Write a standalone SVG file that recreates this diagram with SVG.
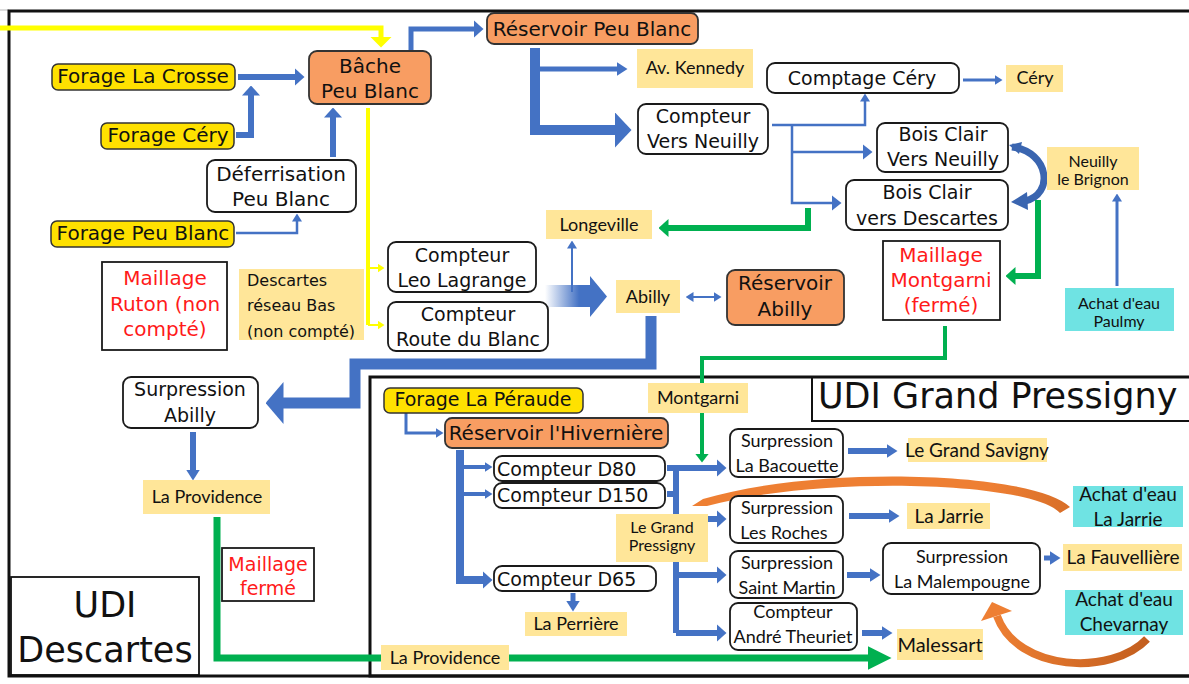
<svg xmlns="http://www.w3.org/2000/svg" width="1189" height="684" viewBox="0 0 1189 684">
<defs>
<style>
.n{fill:#fff;stroke:#1a1a1a;stroke-width:1.8}
.f{fill:#FFE100;stroke:#333;stroke-width:1.5}
.o{fill:#F89D62;stroke:#333;stroke-width:1.8}
.l{fill:#FFE699}
.c{fill:#6FE3E3}
.t{font-family:"DejaVu Sans",sans-serif;fill:#111;text-anchor:middle}
.k{font-family:Lato,"Liberation Sans",sans-serif;fill:#111;text-anchor:middle}
.r{fill:#FF1A1A}
.b{fill:none;stroke:#4472C4}
.g{fill:none;stroke:#00B050}
.y{fill:none;stroke:#FFFF00}
.fr{fill:none;stroke:#111}
</style>
<marker id="aS" markerUnits="userSpaceOnUse" viewBox="0 0 8 10" markerWidth="8" markerHeight="10" refX="0.5" refY="5" orient="auto-start-reverse"><path d="M0,0L8,5L0,10z" fill="#4472C4"/></marker>
<marker id="aT" markerUnits="userSpaceOnUse" viewBox="0 0 10 16" markerWidth="10" markerHeight="16" refX="0.5" refY="8" orient="auto"><path d="M0,0L10,8L0,16z" fill="#4472C4"/></marker>
<marker id="aM" markerUnits="userSpaceOnUse" viewBox="0 0 10 18" markerWidth="10" markerHeight="18" refX="0.5" refY="9" orient="auto"><path d="M0,0L10,9L0,18z" fill="#4472C4"/></marker>
<marker id="aN" markerUnits="userSpaceOnUse" viewBox="0 0 11 14" markerWidth="11" markerHeight="14" refX="0.5" refY="7" orient="auto"><path d="M0,0L11,7L0,14z" fill="#4472C4"/></marker>
<marker id="aL" markerUnits="userSpaceOnUse" viewBox="0 0 17 36" markerWidth="17" markerHeight="36" refX="0.5" refY="18" orient="auto"><path d="M0,0L17,18L0,36z" fill="#4472C4"/></marker>
<marker id="aX" markerUnits="userSpaceOnUse" viewBox="0 0 18 42" markerWidth="18" markerHeight="42" refX="0.5" refY="21" orient="auto"><path d="M0,0L18,21L0,42z" fill="#4472C4"/></marker>
<marker id="gS" markerUnits="userSpaceOnUse" viewBox="0 0 9 14" markerWidth="9" markerHeight="14" refX="0.5" refY="7" orient="auto"><path d="M0,0L9,7L0,14z" fill="#00B050"/></marker>
<marker id="gM" markerUnits="userSpaceOnUse" viewBox="0 0 10 18" markerWidth="10" markerHeight="18" refX="0.5" refY="9" orient="auto"><path d="M0,0L10,9L0,18z" fill="#00B050"/></marker>
<marker id="gL" markerUnits="userSpaceOnUse" viewBox="0 0 24 24" markerWidth="24" markerHeight="24" refX="0.5" refY="12" orient="auto"><path d="M0,0L24,12L0,24z" fill="#00B050"/></marker>
<marker id="yS" markerUnits="userSpaceOnUse" viewBox="0 0 7 9" markerWidth="7" markerHeight="9" refX="0.5" refY="4.5" orient="auto"><path d="M0,0L7,4.5L0,9z" fill="#FFFF00"/></marker>
<marker id="yL" markerUnits="userSpaceOnUse" viewBox="0 0 11 22" markerWidth="11" markerHeight="22" refX="0.5" refY="11" orient="auto"><path d="M0,0L11,11L0,22z" fill="#FFFF00"/></marker>
<linearGradient id="grad" x1="545" y1="0" x2="607" y2="0" gradientUnits="userSpaceOnUse"><stop offset="0" stop-color="#4472C4" stop-opacity="0"/><stop offset="0.55" stop-color="#4472C4"/></linearGradient>
<linearGradient id="og" x1="1150" y1="0" x2="990" y2="0" gradientUnits="userSpaceOnUse"><stop offset="0" stop-color="#C25E1E"/><stop offset="1" stop-color="#EE7F33"/></linearGradient>
</defs>
<rect width="1189" height="684" fill="#fff"/>
<g id="frames">
<line x1="0" y1="10" x2="9" y2="10" stroke="#bbb" stroke-width="1"/>
<rect class="fr" x="9" y="11" width="1190" height="665" stroke-width="3"/>
<rect class="fr" x="370" y="377" width="830" height="299" stroke-width="3"/>
<rect class="fr" x="812" y="377" width="390" height="44" stroke-width="2"/>
<rect class="fr" x="11" y="577" width="188" height="98" stroke-width="1.8"/>
<text class="t" x="818" y="408" font-size="35" style="text-anchor:start">UDI Grand Pressigny</text>
<text class="t" x="105" y="617" font-size="35">UDI</text>
<text class="t" x="105" y="662" font-size="35">Descartes</text>
</g>
<g id="connectors">
<path class="y" stroke-width="5" d="M0,28H381V37" marker-end="url(#yL)"/>
<path class="y" stroke-width="4" d="M368,108V325"/>
<path class="y" stroke-width="2" d="M368,268H378" marker-end="url(#yS)"/>
<path class="y" stroke-width="2" d="M368,325H378" marker-end="url(#yS)"/>
<path class="b" stroke-width="6" d="M238,77H295" marker-end="url(#aM)"/>
<path class="b" stroke-width="6" d="M236,135H251V95" marker-end="url(#aM)"/>
<path class="b" stroke-width="6" d="M333,157V117" marker-end="url(#aM)"/>
<path class="b" stroke-width="2.5" d="M236,233H297V221" marker-end="url(#aS)"/>
<path class="b" stroke-width="5" d="M411,50V29H474" marker-end="url(#aM)"/>
<path class="b" stroke-width="10" d="M535,48V130H615" marker-end="url(#aL)"/>
<path class="b" stroke-width="5" d="M535,69H617" marker-end="url(#aN)"/>
<path class="b" stroke-width="2.5" d="M772,125H865V101" marker-end="url(#aS)"/>
<path class="b" stroke-width="2.5" d="M792,125V203H832" marker-end="url(#aT)"/>
<path class="b" stroke-width="2.5" d="M792,152H863" marker-end="url(#aT)"/>
<path class="b" stroke-width="3" d="M963,80H995" marker-end="url(#aS)"/>
<path class="b" stroke-width="3" d="M1117,286V201" marker-end="url(#aS)"/>
<path fill="none" stroke="#3A65B0" stroke-width="7" d="M1012,147C1050,152 1054,195 1025,201"/>
<path d="M1009,145L1022,142L1019,154z" fill="#3A65B0"/>
<path d="M1011,202L1027,192L1028,210z" fill="#3A65B0"/>
<path class="g" stroke-width="6" d="M1038,200V276H1015" marker-end="url(#gM)"/>
<path class="g" stroke-width="6" d="M808,208V228H668" marker-end="url(#gM)"/>
<path class="b" stroke-width="2" d="M572,292V248" marker-end="url(#aS)"/>
<path d="M545,285H590V276L607,296.5L590,317V307H545z" fill="url(#grad)"/>
<path class="b" stroke-width="2" d="M693,297H714" marker-start="url(#aS)" marker-end="url(#aS)"/>
<path class="b" stroke-width="11" d="M651,316V364H355V403H283" marker-end="url(#aX)"/>
<path class="b" stroke-width="6" d="M193,432V470" marker-end="url(#aN)"/>
<path class="g" stroke-width="7" d="M217,517V658H868" marker-end="url(#gL)"/>
<path class="g" stroke-width="4" d="M945,326V358H702V454" marker-end="url(#gS)"/>
<path class="b" stroke-width="3" d="M406,413V433H436" marker-end="url(#aS)"/>
<path class="b" stroke-width="8" d="M460,450V580H483" marker-end="url(#aM)"/>
<path class="b" stroke-width="4" d="M460,467H485" marker-end="url(#aS)"/>
<path class="b" stroke-width="4" d="M460,494H485" marker-end="url(#aS)"/>
<path class="b" stroke-width="6" d="M676,468V633"/>
<path class="b" stroke-width="6" d="M667,494H676"/>
<path class="b" stroke-width="6" d="M667,468H717" marker-end="url(#aM)"/>
<path class="b" stroke-width="6" d="M676,519H717" marker-end="url(#aM)"/>
<path class="b" stroke-width="6" d="M676,575H717" marker-end="url(#aM)"/>
<path class="b" stroke-width="6" d="M676,633H717" marker-end="url(#aM)"/>
<path class="b" stroke-width="5" d="M573,593V601" marker-end="url(#aN)"/>
<path class="b" stroke-width="6" d="M848,451H887" marker-end="url(#aN)"/>
<path class="b" stroke-width="6" d="M849,516H889" marker-end="url(#aN)"/>
<path class="b" stroke-width="6" d="M847,575H870" marker-end="url(#aN)"/>
<path class="b" stroke-width="5" d="M1044,558H1050" marker-end="url(#aN)"/>
<path class="b" stroke-width="6" d="M862,633H882" marker-end="url(#aN)"/>
<path d="M1070,507C1035,472 820,464 703,499L692,506L707,506C820,475 1030,481 1060,513Z" fill="url(#og)"/>
<path fill="none" stroke="url(#og)" stroke-width="8" d="M1147,639C1112,676 1017,672 997,616"/>
<path d="M992,602L1012,611L981,621z" fill="#EE7F33"/>
</g>
<g id="forage-la-crosse"><rect class="f" x="52" y="64" width="183" height="26" rx="6"/><text class="t" x="143" y="83" font-size="20">Forage La Crosse</text></g>
<g id="forage-cery"><rect class="f" x="101" y="123" width="133" height="26" rx="6"/><text class="t" x="168" y="142" font-size="20">Forage Céry</text></g>
<g id="bache"><rect class="o" x="309" y="51" width="122" height="53" rx="8"/><text class="t" x="370" y="73" font-size="20">Bâche</text><text class="t" x="370" y="98" font-size="20">Peu Blanc</text></g>
<g id="deferrisation"><rect class="n" x="207" y="160" width="149" height="52" rx="8"/><text class="t" x="281" y="181" font-size="20">Déferrisation</text><text class="t" x="281" y="206" font-size="20">Peu Blanc</text></g>
<g id="forage-peu-blanc"><rect class="f" x="51" y="221" width="183" height="26" rx="6"/><text class="t" x="143" y="240" font-size="20">Forage Peu Blanc</text></g>
<g id="maillage-ruton"><rect class="n" x="102" y="262" width="125" height="88" rx="0"/><text class="t r" x="165" y="285" font-size="20">Maillage</text><text class="t r" x="165" y="311" font-size="20">Ruton (non</text><text class="t r" x="165" y="336" font-size="20">compté)</text></g>
<g id="descartes-bas"><rect class="l" x="239" y="269" width="125" height="71"/><text class="t" x="247" y="286" font-size="16" style="text-anchor:start">Descartes</text><text class="t" x="247" y="311" font-size="16" style="text-anchor:start">réseau Bas</text><text class="t" x="247" y="337" font-size="16" style="text-anchor:start">(non compté)</text></g>
<g id="reservoir-peu-blanc"><rect class="o" x="487" y="13" width="211" height="31" rx="7"/><text class="t" x="592" y="36" font-size="20">Réservoir Peu Blanc</text></g>
<g id="av-kennedy"><rect class="l" x="637" y="49" width="116" height="39"/><text class="k" x="695" y="74" font-size="18">Av. Kennedy</text></g>
<g id="compteur-vers-neuilly"><rect class="n" x="638" y="104" width="130" height="50" rx="8"/><text class="t" x="703" y="123" font-size="19">Compteur</text><text class="t" x="703" y="148" font-size="19">Vers Neuilly</text></g>
<g id="comptage-cery"><rect class="n" x="767" y="63" width="192" height="30" rx="8"/><text class="t" x="862" y="85" font-size="19">Comptage Céry</text></g>
<g id="cery"><rect class="l" x="1006" y="65" width="57" height="27"/><text class="k" x="1035" y="84" font-size="18">Céry</text></g>
<g id="bois-clair-neuilly"><rect class="n" x="877" y="123" width="131" height="49" rx="8"/><text class="t" x="943" y="141" font-size="19">Bois Clair</text><text class="t" x="943" y="166" font-size="19">Vers Neuilly</text></g>
<g id="bois-clair-descartes"><rect class="n" x="846" y="180" width="162" height="50" rx="8"/><text class="t" x="927" y="199" font-size="19">Bois Clair</text><text class="t" x="927" y="225" font-size="19">vers Descartes</text></g>
<g id="neuilly-brignon"><rect class="l" x="1047" y="147" width="92" height="43"/><text class="k" x="1093" y="167" font-size="16">Neuilly</text><text class="k" x="1093" y="185" font-size="16">le Brignon</text></g>
<g id="maillage-montgarni"><rect class="n" x="883" y="241" width="117" height="79" rx="0"/><text class="t r" x="941" y="262" font-size="20">Maillage</text><text class="t r" x="941" y="287" font-size="20">Montgarni</text><text class="t r" x="941" y="312" font-size="20">(fermé)</text></g>
<g id="achat-paulmy"><rect class="c" x="1065" y="288" width="109" height="43"/><text class="k" x="1119" y="309" font-size="16">Achat d'eau</text><text class="k" x="1119" y="327" font-size="16">Paulmy</text></g>
<g id="longeville"><rect class="l" x="546" y="210" width="106" height="29"/><text class="k" x="599" y="231" font-size="18">Longeville</text></g>
<g id="compteur-leo"><rect class="n" x="388" y="242" width="148" height="50" rx="8"/><text class="t" x="462" y="262" font-size="19">Compteur</text><text class="t" x="462" y="287" font-size="19">Leo Lagrange</text></g>
<g id="compteur-route"><rect class="n" x="388" y="302" width="160" height="49" rx="8"/><text class="t" x="468" y="321" font-size="19">Compteur</text><text class="t" x="468" y="346" font-size="19">Route du Blanc</text></g>
<g id="abilly"><rect class="l" x="616" y="280" width="64" height="33"/><text class="k" x="648" y="303" font-size="18">Abilly</text></g>
<g id="reservoir-abilly"><rect class="o" x="727" y="270" width="117" height="55" rx="8"/><text class="t" x="785" y="290" font-size="20">Réservoir</text><text class="t" x="785" y="316" font-size="20">Abilly</text></g>
<g id="surpression-abilly"><rect class="n" x="123" y="377" width="135" height="51" rx="8"/><text class="t" x="190" y="396" font-size="19">Surpression</text><text class="t" x="190" y="422" font-size="19">Abilly</text></g>
<g id="la-providence-1"><rect class="l" x="143" y="480" width="127" height="34"/><text class="k" x="207" y="503" font-size="18">La Providence</text></g>
<g id="maillage-ferme"><rect class="n" x="222" y="548" width="92" height="53" rx="0"/><text class="t r" x="268" y="571" font-size="19">Maillage</text><text class="t r" x="268" y="595" font-size="19">fermé</text></g>
<g id="la-providence-2"><rect class="l" x="381" y="645" width="128" height="25"/><text class="k" x="445" y="664" font-size="18">La Providence</text></g>
<g id="forage-peraude"><rect class="f" x="384" y="388" width="199" height="25" rx="6"/><text class="t" x="483" y="406" font-size="19">Forage La Péraude</text></g>
<g id="reservoir-hiverniere"><rect class="o" x="445" y="418" width="223" height="30" rx="7"/><text class="t" x="556" y="440" font-size="20">Réservoir l'Hivernière</text></g>
<g id="compteur-d80"><rect class="n" x="494" y="456" width="171" height="25" rx="8"/><text class="t" x="497" y="476" font-size="19" style="text-anchor:start">Compteur D80</text></g>
<g id="compteur-d150"><rect class="n" x="494" y="483" width="171" height="25" rx="8"/><text class="t" x="497" y="502" font-size="19" style="text-anchor:start">Compteur D150</text></g>
<g id="compteur-d65"><rect class="n" x="494" y="566" width="162" height="25" rx="8"/><text class="t" x="497" y="586" font-size="19" style="text-anchor:start">Compteur D65</text></g>
<g id="la-perriere"><rect class="l" x="525" y="612" width="102" height="24"/><text class="k" x="576" y="630" font-size="18">La Perrière</text></g>
<g id="montgarni"><rect class="l" x="648" y="383" width="100" height="30"/><text class="k" x="698" y="404" font-size="18">Montgarni</text></g>
<g id="le-grand-pressigny"><rect class="l" x="616" y="514" width="92" height="48"/><text class="k" x="662" y="533" font-size="16">Le Grand</text><text class="k" x="662" y="551" font-size="16">Pressigny</text></g>
<g id="surpression-bacouette"><rect class="n" x="730" y="429" width="113" height="48" rx="8"/><text class="k" x="787" y="447" font-size="18">Surpression</text><text class="k" x="787" y="472" font-size="18">La Bacouette</text></g>
<g id="surpression-roches"><rect class="n" x="730" y="496" width="113" height="47" rx="8"/><text class="k" x="787" y="514" font-size="18">Surpression</text><text class="k" x="784" y="539" font-size="18">Les Roches</text></g>
<g id="surpression-saint-martin"><rect class="n" x="730" y="551" width="113" height="47" rx="8"/><text class="k" x="787" y="569" font-size="18">Surpression</text><text class="k" x="787" y="594" font-size="18">Saint Martin</text></g>
<g id="compteur-andre-theuriet"><rect class="n" x="730" y="603" width="127" height="47" rx="8"/><text class="k" x="793" y="618" font-size="18">Compteur</text><text class="k" x="793" y="643" font-size="18">André Theuriet</text></g>
<g id="le-grand-savigny"><rect class="l" x="908" y="438" width="139" height="24"/><text class="k" x="977" y="457" font-size="19">Le Grand Savigny</text></g>
<g id="la-jarrie"><rect class="l" x="907" y="503" width="83" height="26"/><text class="k" x="949" y="523" font-size="19">La Jarrie</text></g>
<g id="surpression-malempougne"><rect class="n" x="883" y="543" width="157" height="51" rx="8"/><text class="k" x="962" y="563" font-size="18">Surpression</text><text class="k" x="962" y="588" font-size="18">La Malempougne</text></g>
<g id="la-fauvelliere"><rect class="l" x="1063" y="544" width="119" height="27"/><text class="k" x="1123" y="564" font-size="19">La Fauvellière</text></g>
<g id="achat-la-jarrie"><rect class="c" x="1073" y="486" width="110" height="41"/><text class="k" x="1128" y="501" font-size="19">Achat d'eau</text><text class="k" x="1128" y="526" font-size="19">La Jarrie</text></g>
<g id="achat-chevarnay"><rect class="c" x="1065" y="590" width="118" height="45"/><text class="k" x="1124" y="606" font-size="19">Achat d'eau</text><text class="k" x="1124" y="631" font-size="19">Chevarnay</text></g>
<g id="malessart"><rect class="l" x="897" y="629" width="86" height="31"/><text class="k" x="940" y="652" font-size="20">Malessart</text></g>
</svg>
